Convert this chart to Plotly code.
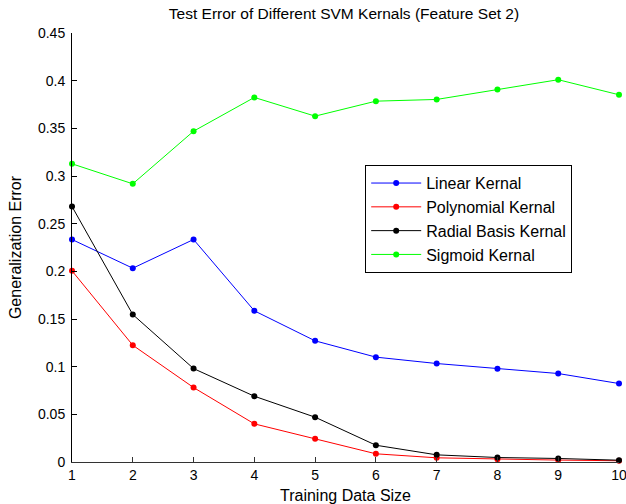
import plotly.graph_objects as go

sizes = [1, 2, 3, 4, 5, 6, 7, 8, 9, 10]
linear = [0.2334, 0.2033, 0.2334, 0.1586, 0.1271, 0.110, 0.1033, 0.0977, 0.0928, 0.0823]
polynomial = [0.2005, 0.1225, 0.0781, 0.0400, 0.0243, 0.0086, 0.0044, 0.0030, 0.0020, 0.0013]
radial = [0.2680, 0.1547, 0.0980, 0.0690, 0.0470, 0.0176, 0.0075, 0.0047, 0.0037, 0.0019]
sigmoid = [0.3128, 0.2918, 0.3470, 0.3824, 0.3628, 0.3785, 0.3803, 0.3907, 0.4010, 0.3852]
y_ticks = [0, 0.05, 0.1, 0.15, 0.2, 0.25, 0.3, 0.35, 0.4, 0.45]
y_tick_text = ["0", "0.05", "0.1", "0.15", "0.2", "0.25", "0.3", "0.35", "0.4", "0.45"]

series = [
    ("Linear Kernal", linear, "#0000FF"),
    ("Polynomial Kernal", polynomial, "#FF0000"),
    ("Radial Basis Kernal", radial, "#000000"),
    ("Sigmoid Kernal", sigmoid, "#00FF00"),
]

fig = go.Figure()
for name, vals, color in series:
    fig.add_trace(go.Scatter(
        x=sizes, y=vals, name=name, mode="lines+markers",
        line=dict(color=color, width=1),
        marker=dict(color=color, size=6),
        cliponaxis=False,
    ))

font = "Liberation Sans, Arial, sans-serif"
fig.update_layout(
    width=626, height=504,
    margin=dict(l=72, r=7, t=33, b=42, autoexpand=False),
    paper_bgcolor="white", plot_bgcolor="white",
    font=dict(family=font, size=14, color="#000000"),
    title=dict(text="Test Error of Different SVM Kernals (Feature Set 2)",
               x=344 / 626, xanchor="center", y=1 - 14 / 504, yanchor="middle",
               font=dict(size=15.5, family=font, color="#000000")),
    showlegend=True,
    legend=dict(x=0.536, y=0.692, xanchor="left", yanchor="top",
                bordercolor="#000000", borderwidth=1, bgcolor="white",
                font=dict(size=16, family=font), tracegroupgap=0,
                itemwidth=50),
)
fig.update_xaxes(
    range=[1, 10], tickmode="array", tickvals=sizes, ticktext=[str(s) for s in sizes],
    showgrid=False, zeroline=False, showline=True, linecolor="#333333", linewidth=1,
    ticks="inside", ticklen=5, tickcolor="#333333", ticklabeloverflow="allow",
    automargin=False,
    title=dict(text="Training Data Size", standoff=9, font=dict(size=16)),
)
fig.update_yaxes(
    range=[0, 0.45], tickmode="array", tickvals=y_ticks, ticktext=y_tick_text,
    showgrid=False, zeroline=False, showline=True, linecolor="#000000", linewidth=1,
    ticks="inside", ticklen=5, tickcolor="#000000", ticklabelstandoff=3,
    automargin=False,
    title=dict(text="Generalization Error", standoff=12, font=dict(size=16)),
)

fig.write_html("out.html")
